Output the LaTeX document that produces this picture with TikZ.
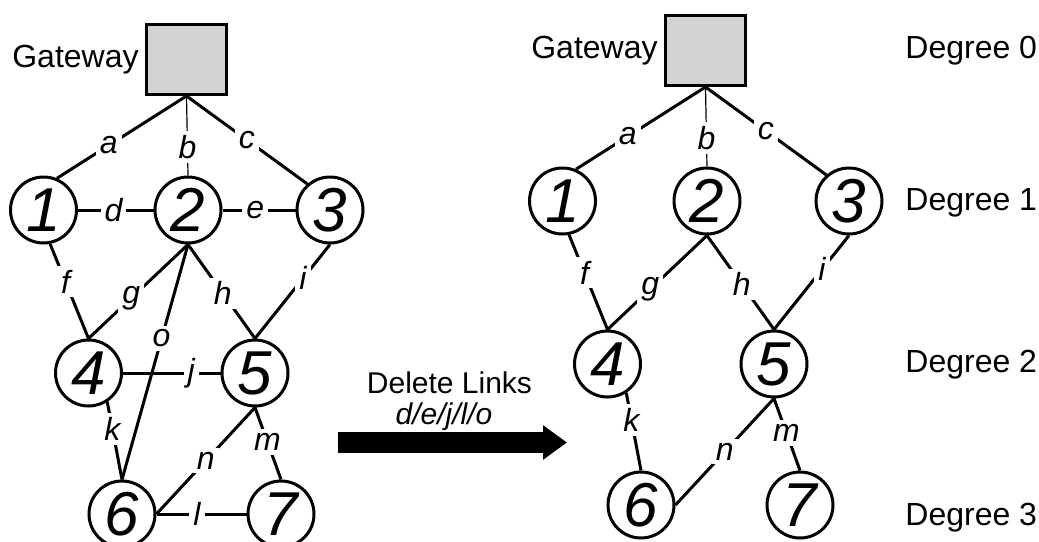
\documentclass[tikz,border=0pt]{standalone}
\usepackage{fontspec}
\setmainfont{Liberation Sans}
\usetikzlibrary{arrows.meta,positioning}
\definecolor{gwgray}{RGB}{209,211,212}
\tikzset{
    vertex/.style={draw, circle, line width=1.5pt, minimum size=33pt, inner sep=0pt, font=\fontsize{31}{32}\selectfont\itshape},
    gatebox/.style={draw, line width=1.5pt, fill=gwgray, minimum width=40pt, minimum height=35pt},
    link/.style={line width=1.5pt},
    thinlink/.style={line width=0.6pt},
    lbl/.style={fill=white, inner sep=2pt, font=\fontsize{16}{18}\selectfont\itshape},
    degree/.style={anchor=west, inner sep=0pt, font=\fontsize{16}{19}\selectfont},
    bigarrow/.style={line width=10.5pt, -{Triangle[length=12pt, width=16.5pt]}}
}
\begin{document}
\begin{tikzpicture}[x=0.5pt, y=-0.5pt]
\useasboundingbox (0,0) rectangle (1039,541);

% before: full mesh
\begin{scope}
    \node[gatebox] (LGw) at (186.5,59.5) {};
    \node[left=3pt of LGw, inner sep=0pt, font=\fontsize{16}{19}\selectfont] (LGwTxt) {Gateway};
    \node[vertex] (L1) at (43.5,210) {1};
    \node[vertex] (L2) at (188,210) {2};
    \node[vertex] (L3) at (330,210) {3};
    \node[vertex] (L4) at (88.5,373) {4};
    \node[vertex] (L5) at (255,373) {5};
    \node[vertex] (L6) at (122,514) {6};
    \node[vertex] (L7) at (281,514) {7};
    \draw[link] (LGw.south) -- node[lbl, pos=0.6] {a} (L1.67);
    \draw[thinlink] (LGw.south) -- node[lbl, pos=0.64] {b} (L2.north);
    \draw[link] (LGw.south) -- node[lbl, pos=0.5] {c} (L3.131);
    \draw[link] (L1.east) -- node[lbl, pos=0.47] {d} (L2.west);
    \draw[link] (L2.east) -- node[lbl, pos=0.45] {e} (L3.west);
    \draw[link] (L1.-79) -- node[lbl, pos=0.4] {f} (L4.north);
    \draw[link] (L2.south) -- node[lbl, pos=0.57] {g} (L4.north);
    \draw[link] (L2.south) -- node[lbl, pos=0.52] {h} (L5.north);
    \draw[link] (L3.south) -- node[lbl, pos=0.36] {i} (L5.north);
    \draw[link] (L2.south) -- node[lbl, pos=0.4] {o} (L6.north);
    \draw[link] (L4.east) -- node[lbl, pos=0.7] {j} (L5.west);
    \draw[link] (L4.-57) -- node[lbl, pos=0.35] {k} (L6.north);
    \draw[link] (L6.east) -- node[lbl, pos=0.45] {l} (L7.west);
    \draw[link] (L5.south) -- node[lbl, pos=0.48] {m} (L7.north);
    \draw[link] (L5.south) -- node[lbl, pos=0.5] {n} (L6.east);
\end{scope}

% the step between
\node[anchor=base, inner sep=0pt, font=\fontsize{15}{18}\selectfont] (DelTxt) at (449.5,393) {Delete Links};
\node[anchor=base, inner sep=0pt, font=\fontsize{15}{18}\selectfont\itshape] (DelLinks) at (444,424) {d/e/j/l/o};
\coordinate (ArrS) at (338,442.5);
\coordinate (ArrE) at (567,442.5);
\draw[bigarrow] (ArrS) -- (ArrE);

% after: tree
\begin{scope}[shift={(519,-9)}]
    \node[gatebox] (RGw) at (186.5,59.5) {};
    \node[left=3pt of RGw, inner sep=0pt, font=\fontsize{16}{19}\selectfont] (RGwTxt) {Gateway};
    \node[vertex] (R1) at (43.5,210) {1};
    \node[vertex] (R2) at (188,210) {2};
    \node[vertex] (R3) at (330,210) {3};
    \node[vertex] (R4) at (88.5,373) {4};
    \node[vertex] (R5) at (255,373) {5};
    \node[vertex] (R6) at (122,514) {6};
    \node[vertex] (R7) at (281,514) {7};
    \draw[link] (RGw.south) -- node[lbl, pos=0.6] {a} (R1.67);
    \draw[thinlink] (RGw.south) -- node[lbl, pos=0.64] {b} (R2.north);
    \draw[link] (RGw.south) -- node[lbl, pos=0.5] {c} (R3.131);
    \draw[link] (R1.-79) -- node[lbl, pos=0.4] {f} (R4.north);
    \draw[link] (R2.south) -- node[lbl, pos=0.57] {g} (R4.north);
    \draw[link] (R2.south) -- node[lbl, pos=0.52] {h} (R5.north);
    \draw[link] (R3.south) -- node[lbl, pos=0.36] {i} (R5.north);
    \draw[link] (R4.-57) -- node[lbl, pos=0.35] {k} (R6.north);
    \draw[link] (R5.south) -- node[lbl, pos=0.48] {m} (R7.north);
    \draw[link] (R5.south) -- node[lbl, pos=0.5] {n} (R6.east);
\end{scope}

% levels
\node[degree] (Deg0) at (905,51) {Degree 0};
\node[degree] (Deg1) at (905,203) {Degree 1};
\node[degree] (Deg2) at (905,365) {Degree 2};
\node[degree] (Deg3) at (905,518) {Degree 3};
\end{tikzpicture}
\end{document}
